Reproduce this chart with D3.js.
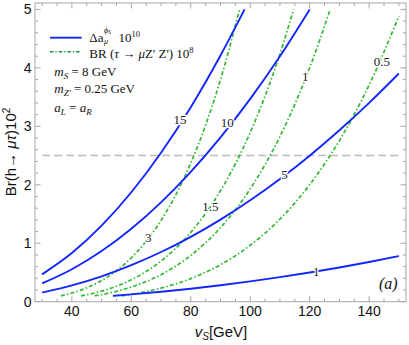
<!DOCTYPE html>
<html><head><meta charset="utf-8">
<script src="https://cdn.jsdelivr.net/npm/d3@7"></script>
<style>body{margin:0;background:#fff} svg{display:block}</style>
</head><body><svg id="c" width="409" height="345"></svg>
<script>
// ---------- data ----------
const xTickValues = [40, 60, 80, 100, 120, 140];
const yTickValues = [0, 1, 2, 3, 4, 5];
const referenceBr = 2.5;
const referenceRange = [30, 150];

const blueLabels = ["15", "10", "5", "1"];
const blueV = [
  [30, 40, 50, 60, 70, 80, 90, 98.1],
  [30, 40, 50, 60, 70, 80, 90, 100, 110, 120],
  [30, 40, 50, 60, 70, 80, 90, 100, 110, 120, 130, 140, 150],
  [53.8, 60, 70, 80, 90, 100, 110, 120, 130, 140, 150]
];
const blueBr = [
  [0.468, 0.832, 1.30, 1.872, 2.548, 3.328, 4.212, 5.0],
  [0.312, 0.555, 0.868, 1.249, 1.700, 2.221, 2.811, 3.470, 4.199, 5.0],
  [0.156, 0.278, 0.434, 0.625, 0.850, 1.110, 1.405, 1.735, 2.099, 2.498, 2.932, 3.401, 3.904],
  [0.1, 0.125, 0.170, 0.222, 0.281, 0.347, 0.420, 0.500, 0.586, 0.680, 0.781]
];
const blueLabelV = [76.4, 92.3, 111.5, 122.2];
const blueLabelBr = [3.11, 3.06, 2.17, 0.51];

const greenLabels = ["3", "1.5", "1", "0.5"];
const greenV = [
  [36.3, 40, 45, 50, 55, 60, 65, 70, 75, 80, 85, 90, 96.4],
  [43.1, 50, 60, 70, 80, 90, 100, 110, 114.6],
  [47.7, 50, 60, 70, 80, 90, 100, 110, 120, 126.9],
  [56.7, 60, 70, 80, 90, 100, 110, 120, 130, 140, 150]
];
const greenBr = [
  [0.1, 0.148, 0.237, 0.362, 0.530, 0.750, 1.034, 1.390, 1.832, 2.372, 3.022, 3.799, 5.0],
  [0.1, 0.181, 0.375, 0.695, 1.186, 1.899, 2.895, 4.239, 5.0],
  [0.1, 0.121, 0.250, 0.463, 0.791, 1.266, 1.930, 2.826, 4.002, 5.0],
  [0.1, 0.125, 0.232, 0.395, 0.633, 0.965, 1.413, 2.001, 2.756, 3.707, 4.885]
];
const greenLabelV = [65.7, 86.6, 118.5, 144.3];
const greenLabelBr = [1.09, 1.63, 3.85, 4.11];

// ---------- layout ----------
const L = 35, R = 406, T = 3, B = 301.7;
const svg = d3.select("#c");
const x = d3.scaleLinear().domain([27.6, 152.4]).range([L, R]);
const y = d3.scaleLinear().domain([0, 5.11]).range([B, T]);

const BLUE = "#1226ff", GREEN = "#33b833", FRAME = "#a6a6a6";
const serif = "'Liberation Serif','Times New Roman',serif";
const sans = "'Liberation Sans',Arial,sans-serif";

// reference dashed line
svg.append("line")
  .attr("x1", x(referenceRange[0])).attr("x2", x(referenceRange[1]))
  .attr("y1", y(referenceBr)).attr("y2", y(referenceBr))
  .attr("stroke", "#bdbdbd").attr("stroke-width", 1.6).attr("stroke-dasharray", "8,4");

const line = d3.line().x(d => x(d[0])).y(d => y(d[1])).curve(d3.curveMonotoneX);

// green contours
greenV.forEach((vs, i) => {
  svg.append("path").datum(vs.map((v, j) => [v, greenBr[i][j]]))
    .attr("d", line).attr("fill", "none").attr("stroke", GREEN)
    .attr("stroke-width", 1.7).attr("stroke-dasharray", "4,2.2,1.5,2.2");
});
// blue contours
blueV.forEach((vs, i) => {
  svg.append("path").datum(vs.map((v, j) => [v, blueBr[i][j]]))
    .attr("d", line).attr("fill", "none").attr("stroke", BLUE)
    .attr("stroke-width", 1.9);
});

// contour labels
function contourLabel(txt, v, br) {
  svg.append("text").attr("x", x(v)).attr("y", y(br))
    .attr("text-anchor", "middle").attr("dominant-baseline", "central")
    .attr("font-family", serif).attr("font-size", 13)
    .attr("stroke", "#fff").attr("stroke-width", 2.5).attr("paint-order", "stroke")
    .attr("fill", "#222").text(txt);
}
blueLabels.forEach((t, i) => contourLabel(t, blueLabelV[i], blueLabelBr[i]));
greenLabels.forEach((t, i) => contourLabel(t, greenLabelV[i], greenLabelBr[i]));

// frame
svg.append("rect").attr("x", L).attr("y", T).attr("width", R - L).attr("height", B - T)
  .attr("fill", "none").attr("stroke", FRAME).attr("stroke-width", 1);

// ticks
const xMinor = d3.range(30, 151, 5);
const yMinor = d3.range(0, 5.11, 0.2);
const tg = svg.append("g").attr("stroke", FRAME).attr("stroke-width", 1);
xMinor.forEach(v => {
  const len = xTickValues.includes(v) ? 5.5 : 3;
  tg.append("line").attr("x1", x(v)).attr("x2", x(v)).attr("y1", B).attr("y2", B - len);
  tg.append("line").attr("x1", x(v)).attr("x2", x(v)).attr("y1", T).attr("y2", T + len);
});
yMinor.forEach(v => {
  const major = yTickValues.some(t => Math.abs(t - v) < 1e-6);
  const len = major ? 5.5 : 3;
  tg.append("line").attr("x1", L).attr("x2", L + len).attr("y1", y(v)).attr("y2", y(v));
  tg.append("line").attr("x1", R).attr("x2", R - len).attr("y1", y(v)).attr("y2", y(v));
});

// tick labels
xTickValues.forEach(v => {
  svg.append("text").attr("x", x(v)).attr("y", 316).attr("text-anchor", "middle")
    .attr("font-family", sans).attr("font-size", 14).attr("fill", "#111").text(v);
});
yTickValues.forEach(v => {
  svg.append("text").attr("x", 31.5).attr("y", y(v)).attr("text-anchor", "end")
    .attr("dominant-baseline", "central")
    .attr("font-family", sans).attr("font-size", 14).attr("fill", "#111").text(v);
});

// axis titles
const xt = svg.append("text").attr("x", 221).attr("y", 337).attr("text-anchor", "middle")
  .attr("font-family", sans).attr("font-size", 15).attr("fill", "#111");
xt.append("tspan").attr("font-style", "italic").text("v");
xt.append("tspan").attr("font-style", "italic").attr("font-size", 10).attr("dy", 3).text("S");
xt.append("tspan").attr("dy", -3).text("[GeV]");

const yt = svg.append("text").attr("transform", "translate(15.5,152) rotate(-90)")
  .attr("text-anchor", "middle").attr("font-family", sans).attr("font-size", 15).attr("fill", "#111");
yt.append("tspan").text("Br(h\u2192 ");
yt.append("tspan").attr("font-style", "italic").text("\u03bc\u03c4");
yt.append("tspan").text(")10");
yt.append("tspan").attr("font-size", 10).attr("dy", -6).text("2");

// legend
svg.append("line").attr("x1", 50).attr("x2", 81.7).attr("y1", 37.7).attr("y2", 37.7)
  .attr("stroke", BLUE).attr("stroke-width", 1.9);
svg.append("line").attr("x1", 50).attr("x2", 81.7).attr("y1", 51.7).attr("y2", 51.7)
  .attr("stroke", "#1f9a3f").attr("stroke-width", 1.5).attr("stroke-dasharray", "3.5,2,1.2,2");

function rich(xp, yp, parts, size) {
  const t = svg.append("text").attr("x", xp).attr("y", yp)
    .attr("font-family", serif).attr("font-size", size).attr("fill", "#111");
  parts.forEach(p => {
    const s = t.append("tspan").text(p.t);
    if (p.i) s.attr("font-style", "italic");
    if (p.s) s.attr("font-size", p.s);
    if (p.dy) s.attr("dy", p.dy);
  });
  return t;
}
// Δa_μ^{φ_S} 10^10
const t1 = rich(89.3, 42, [{t: "\u0394a"}], 13);
const w1 = t1.node().getComputedTextLength();
rich(89.3 + w1 + 0.5, 44, [{t: "\u03bc", i: 1}], 8);
rich(89.3 + w1 + 0.5, 32.5, [{t: "\u03d5", i: 1}, {t: "S", i: 1, s: 6, dy: 1.5}], 8);
rich(89.3 + w1 + 15, 42, [{t: "10"}, {t: "10", s: 8.5, dy: -5}], 13);
// BR (τ → μZ' Z') 10^8
rich(89.3, 57.5, [{t: "BR ("}, {t: "\u03c4", i: 1}, {t: " \u2192  "}, {t: "\u03bc", i: 1}, {t: "Z' Z') 10"}, {t: "8", s: 8.5, dy: -5}], 13);
// parameters
rich(54.3, 75.5, [{t: "m", i: 1}, {t: "S", i: 1, s: 9, dy: 3}, {t: " = 8 GeV", dy: -3}], 13);
rich(54.3, 92.5, [{t: "m", i: 1}, {t: "Z'", i: 1, s: 9, dy: 3}, {t: " = 0.25 GeV", dy: -3}], 13);
rich(54.3, 112, [{t: "a", i: 1}, {t: "L", i: 1, s: 9, dy: 3}, {t: " = ", dy: -3}, {t: "a", i: 1}, {t: "R", i: 1, s: 9, dy: 3}], 13);

// panel tag
rich(379, 288.5, [{t: "(", i: 1}, {t: "a", i: 1}, {t: ")", i: 1}], 16);
</script></body></html>
